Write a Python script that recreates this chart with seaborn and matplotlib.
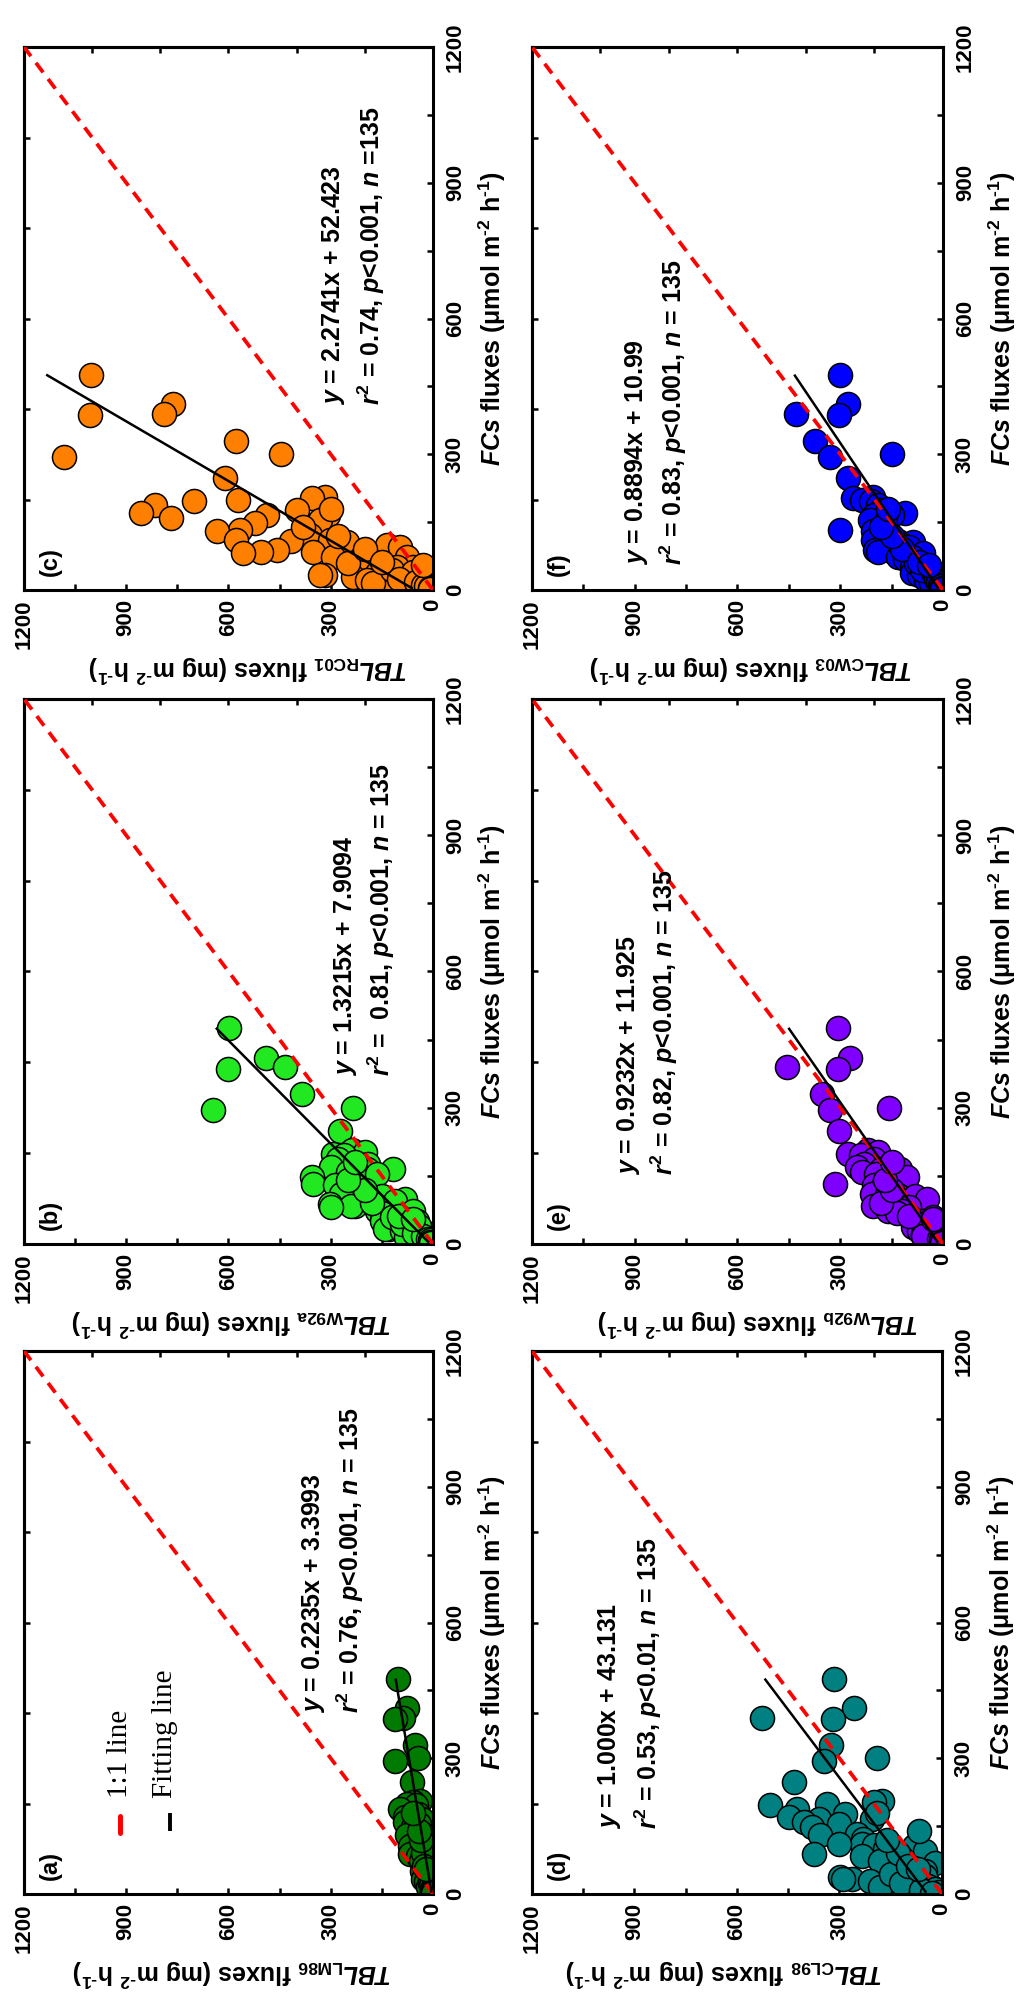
import matplotlib
matplotlib.use("Agg")
import numpy as np
import pandas as pd
import matplotlib.pyplot as plt
import seaborn as sns
from matplotlib.ticker import MultipleLocator, NullFormatter
from matplotlib.lines import Line2D

# ---------------- data ----------------
# Shared FCs fluxes (umol m-2 h-1) for the sampled points
FC = [476, 410, 390, 386, 330, 300, 294, 248,
      206, 203, 199, 197, 188, 177, 170, 166, 165, 159,
      155, 148, 133, 130, 122, 110, 110, 108, 106, 99,
      95, 88, 84, 84, 82, 73, 73, 69, 51, 51,
      38, 38, 33, 33, 29, 29, 22, 22, 15, 15,
      15, 60, 45, 40, 25, 18, 10, 8, 5, 3,
      90, 120, 140, 180, 62, 55]

TBL_LM86 = [103, 76, 88, 112, 53, 44, 112, 62,
            38, 60, 76, 50, 97, 45, 82, 33, 60, 82,
            40, 59, 30, 75, 45, 29, 55, 35, 67, 20,
            40, 67, 25, 45, 30, 15, 35, 20, 32, 12,
            25, 10, 15, 30, 8, 20, 5, 12, 3, 8,
            15, 18, 10, 5, 10, 6, 4, 2, 3, 1,
            30, 35, 40, 60, 25, 20]

TBL_W92a = [598, 490, 434, 601, 384, 235, 645, 273,
            238, 200, 293, 260, 280, 190, 300, 194, 117, 250,
            165, 355, 352, 288, 250, 235, 270, 200, 150, 82,
            110, 302, 229, 240, 300, 60, 165, 150, 47, 150,
            82, 100, 130, 140, 90, 30, 70, 40, 18, 60,
            80, 120, 90, 40, 55, 30, 15, 10, 8, 5,
            180, 200, 250, 230, 100, 60]

TBL_RC01 = [1004, 764, 790, 1007, 579, 445, 1083, 609,
            316, 354, 571, 702, 817, 398, 858, 486, 307, 770,
            331, 521, 565, 635, 360, 301, 579, 416, 252, 135,
            97, 457, 351, 506, 556, 76, 293, 214, 58, 105,
            164, 135, 316, 331, 234, 38, 193, 76, 18, 146,
            175, 250, 120, 60, 100, 50, 30, 20, 10, 8,
            200, 280, 380, 300, 150, 30]

TBL_CL98 = [317, 258, 527, 319, 324, 190, 346, 434,
            176, 200, 337, 502, 424, 283, 449, 361, 205, 405,
            300, 381, 249, 356, 230, 234, 300, 200, 83, 167,
            49, 376, 234, 146, 120, 180, 110, 20, 49, 130,
            298, 117, 263, 290, 210, 60, 156, 88, 30, 70,
            180, 90, 150, 50, 120, 40, 20, 60, 10, 30,
            130, 160, 68, 190, 100, 70]

TBL_W92b = [306, 272, 454, 307, 354, 158, 331, 304,
            220, 190, 278, 240, 200, 230, 252, 126, 180, 237,
            196, 105, 316, 200, 180, 208, 164, 130, 82, 47,
            150, 146, 205, 170, 100, 120, 160, 135, 80, 59,
            88, 60, 50, 40, 70, 25, 23, 59, 10, 30,
            45, 29, 59, 40, 20, 59, 12, 6, 4, 2,
            180, 150, 170, 150, 100, 30]

TBL_CW03 = [301, 278, 430, 304, 375, 149, 331, 278,
            205, 263, 237, 210, 190, 180, 111, 200, 150, 170,
            214, 170, 301, 205, 180, 205, 150, 130, 88, 120,
            100, 199, 146, 190, 58, 90, 130, 110, 60, 91,
            38, 91, 70, 50, 40, 20, 30, 50, 10, 25,
            35, 80, 60, 30, 20, 15, 10, 5, 3, 2,
            120, 150, 180, 160, 70, 40]

SLOPES = [0.2235, 1.3215, 2.2741, 1.000, 0.9232, 0.8894]
INTERCEPTS = [3.3993, 7.9094, 52.423, 43.131, 11.925, 10.99]
EQ_TEXT = ["0.2235x + 3.3993", "1.3215x + 7.9094", "2.2741x + 52.423",
           "1.000x + 43.131", "0.9232x + 11.925", "0.8894x + 10.99"]
STAT_TEXT = [r"$\mathit{r}^{2}$ = 0.76, $\mathit{p}$<0.001, $\mathit{n}$ = 135",
             r"$\mathit{r}^{2}$ =  0.81, $\mathit{p}$<0.001, $\mathit{n}$ = 135",
             r"$\mathit{r}^{2}$ = 0.74, $\mathit{p}$<0.001, $\mathit{n}$ =135",
             r"$\mathit{r}^{2}$ = 0.53, $\mathit{p}$<0.01, $\mathit{n}$ = 135",
             r"$\mathit{r}^{2}$ = 0.82, $\mathit{p}$<0.001, $\mathit{n}$ = 135",
             r"$\mathit{r}^{2}$ = 0.83, $\mathit{p}$<0.001, $\mathit{n}$ = 135"]
MODELS = ["LM86", "W92a", "RC01", "CL98", "W92b", "CW03"]
LETTERS = ["(a)", "(b)", "(c)", "(d)", "(e)", "(f)"]
TBL_ALL = [TBL_LM86, TBL_W92a, TBL_RC01, TBL_CL98, TBL_W92b, TBL_CW03]
COLORS = ["#007A00", "#22E822", "#FF8000", "#008080", "#8000FF", "#0000FF"]

HY = "\u2010"  # short hyphen for unit exponents
FC_LABEL = r"$\mathit{FCs}$ fluxes (μmol m$^{" + HY + r"2}$ h$^{" + HY + r"1}$)"

# ---------------- layout (rotated page) ----------------
RECTS = [
    [0.0234, 0.053, 0.399, 0.2715],   # a
    [0.0234, 0.378, 0.399, 0.2725],   # b
    [0.0234, 0.705, 0.399, 0.2715],   # c
    [0.519, 0.053, 0.400, 0.2715],    # d
    [0.519, 0.378, 0.401, 0.2725],    # e
    [0.519, 0.705, 0.401, 0.2715],    # f
]
ANN_POS = [(0.707, 0.797, 0.333), (0.787, 0.873, 0.308), (0.756, 0.849, 0.341),
           (0.190, 0.284, 0.120), (0.234, 0.322, 0.127), (0.255, 0.345, 0.046)]
TBL_LABEL_X = [0.509, 0.509, 0.549, 0.470, 0.550, 0.533]

sns.set_theme(style="white")
plt.rcParams["font.family"] = ["Liberation Sans", "DejaVu Sans"]
plt.rcParams["font.weight"] = "bold"
plt.rcParams["mathtext.fontset"] = "custom"
plt.rcParams["mathtext.rm"] = "Liberation Sans:bold"
plt.rcParams["mathtext.bf"] = "Liberation Sans:bold"
plt.rcParams["mathtext.sf"] = "Liberation Sans:bold"
plt.rcParams["mathtext.it"] = "Liberation Sans:italic:bold"
plt.rcParams["mathtext.default"] = "rm"
plt.rcParams["axes.edgecolor"] = "black"

fig = plt.figure(figsize=(10.25, 20), dpi=100)
fig.patch.set_facecolor("white")

fc = np.array(FC, dtype=float)
fc_line = np.array([fc.min(), fc.max()])

for i in range(6):
    ax = fig.add_axes(RECTS[i])
    ax.set_facecolor("white")
    tbl = np.array(TBL_ALL[i], dtype=float)
    df = pd.DataFrame({"TBL": tbl, "FC": fc})
    sns.scatterplot(data=df, x="TBL", y="FC", ax=ax, s=300, color=COLORS[i],
                    edgecolor="black", linewidth=1.1, legend=False, zorder=2)
    # 1:1 line
    ax.plot([0, 1200], [0, 1200], color="#FF0000", lw=2.7,
            linestyle=(0, (3.2, 2.2)), zorder=3)
    # fitting line (TBL = a*FC + b)
    ax.plot(SLOPES[i] * fc_line + INTERCEPTS[i], fc_line, color="black",
            lw=1.8, zorder=4, solid_capstyle="butt")

    ax.set_xlim(1200, 0)
    ax.set_ylim(0, 1200)
    ax.set_xlabel("")
    ax.set_ylabel("")
    ax.xaxis.set_ticks_position("bottom")
    ax.yaxis.set_ticks_position("right")
    ax.xaxis.set_major_locator(MultipleLocator(300))
    ax.xaxis.set_minor_locator(MultipleLocator(150))
    ax.yaxis.set_major_locator(MultipleLocator(300))
    ax.yaxis.set_minor_locator(MultipleLocator(150))
    ax.tick_params(axis="both", which="both", direction="in", length=4.5,
                   width=1.8, color="black")
    ax.tick_params(axis="x", which="major", labelrotation=90, pad=6.5,
                   labelsize=16, labelcolor="black")
    ax.tick_params(axis="y", which="major", labelrotation=90, pad=8.5,
                   labelsize=16, labelcolor="black", labelright=True,
                   labelleft=False)
    for lbl in ax.get_yticklabels():
        lbl.set_va("center")
    for sp in ax.spines.values():
        sp.set_linewidth(2.2)
        sp.set_color("black")
        sp.set_visible(True)

    # opposite-side ticks (top / left) every 200
    secx = ax.secondary_xaxis("top")
    secx.set_xticks([200, 400, 600, 800, 1000])
    secx.xaxis.set_major_formatter(NullFormatter())
    secx.tick_params(axis="x", direction="in", length=4.5, width=1.8,
                     color="black")
    secx.spines["top"].set_linewidth(2.2)
    secx.spines["top"].set_color("black")
    secy = ax.secondary_yaxis("left")
    secy.set_yticks([200, 400, 600, 800, 1000])
    secy.yaxis.set_major_formatter(NullFormatter())
    secy.tick_params(axis="y", direction="in", length=4.5, width=1.8,
                     color="black")
    secy.spines["left"].set_linewidth(2.2)
    secy.spines["left"].set_color("black")

    # axis labels (rotated page)
    ax.text(1.145, 0.5, FC_LABEL,
            transform=ax.transAxes, rotation=90, ha="center", va="center",
            fontsize=18, fontweight="bold", color="black")
    ax.text(TBL_LABEL_X[i], -0.145,
            r"$\mathit{TBL}_{\mathrm{" + MODELS[i] + r"}}$ fluxes (mg m$^{"
            + HY + r"2}$ h$^{" + HY + r"1}$)",
            transform=ax.transAxes, rotation=180, ha="center", va="center",
            fontsize=18, fontweight="bold", color="black")

    # panel letter
    ax.text(0.065, 0.025, LETTERS[i], transform=ax.transAxes, rotation=90,
            ha="center", va="bottom", fontsize=17, fontweight="bold",
            color="black")

    # equation and statistics
    x1, x2, yb = ANN_POS[i]
    ax.text(x1, yb, r"$\mathit{y}$ = " + EQ_TEXT[i], transform=ax.transAxes,
            rotation=90, ha="center", va="bottom", fontsize=18,
            fontweight="bold", color="black")
    ax.text(x2, yb, STAT_TEXT[i], transform=ax.transAxes, rotation=90,
            ha="center", va="bottom", fontsize=18, fontweight="bold",
            color="black")

    if i == 0:
        ax.text(0.252, 0.176, "1:1 line", transform=ax.transAxes, rotation=90,
                rotation_mode="anchor", ha="left", va="baseline",
                family="Liberation Serif", fontsize=21, fontweight="normal",
                color="black")
        ax.text(0.362, 0.177, "Fitting line", transform=ax.transAxes,
                rotation=90, rotation_mode="anchor", ha="left",
                va="baseline", family="Liberation Serif", fontsize=21,
                fontweight="normal", color="black")
        ax.add_line(Line2D([0.235, 0.235], [0.113, 0.144],
                           transform=ax.transAxes, color="#FF0000", lw=3.6,
                           solid_capstyle="round"))
        ax.add_line(Line2D([0.357, 0.357], [0.116, 0.150],
                           transform=ax.transAxes, color="black", lw=2.8,
                           solid_capstyle="butt"))
    ax.set_xlim(1200, 0)
    ax.set_ylim(0, 1200)

fig.savefig("out.png", dpi=100, facecolor="white")
